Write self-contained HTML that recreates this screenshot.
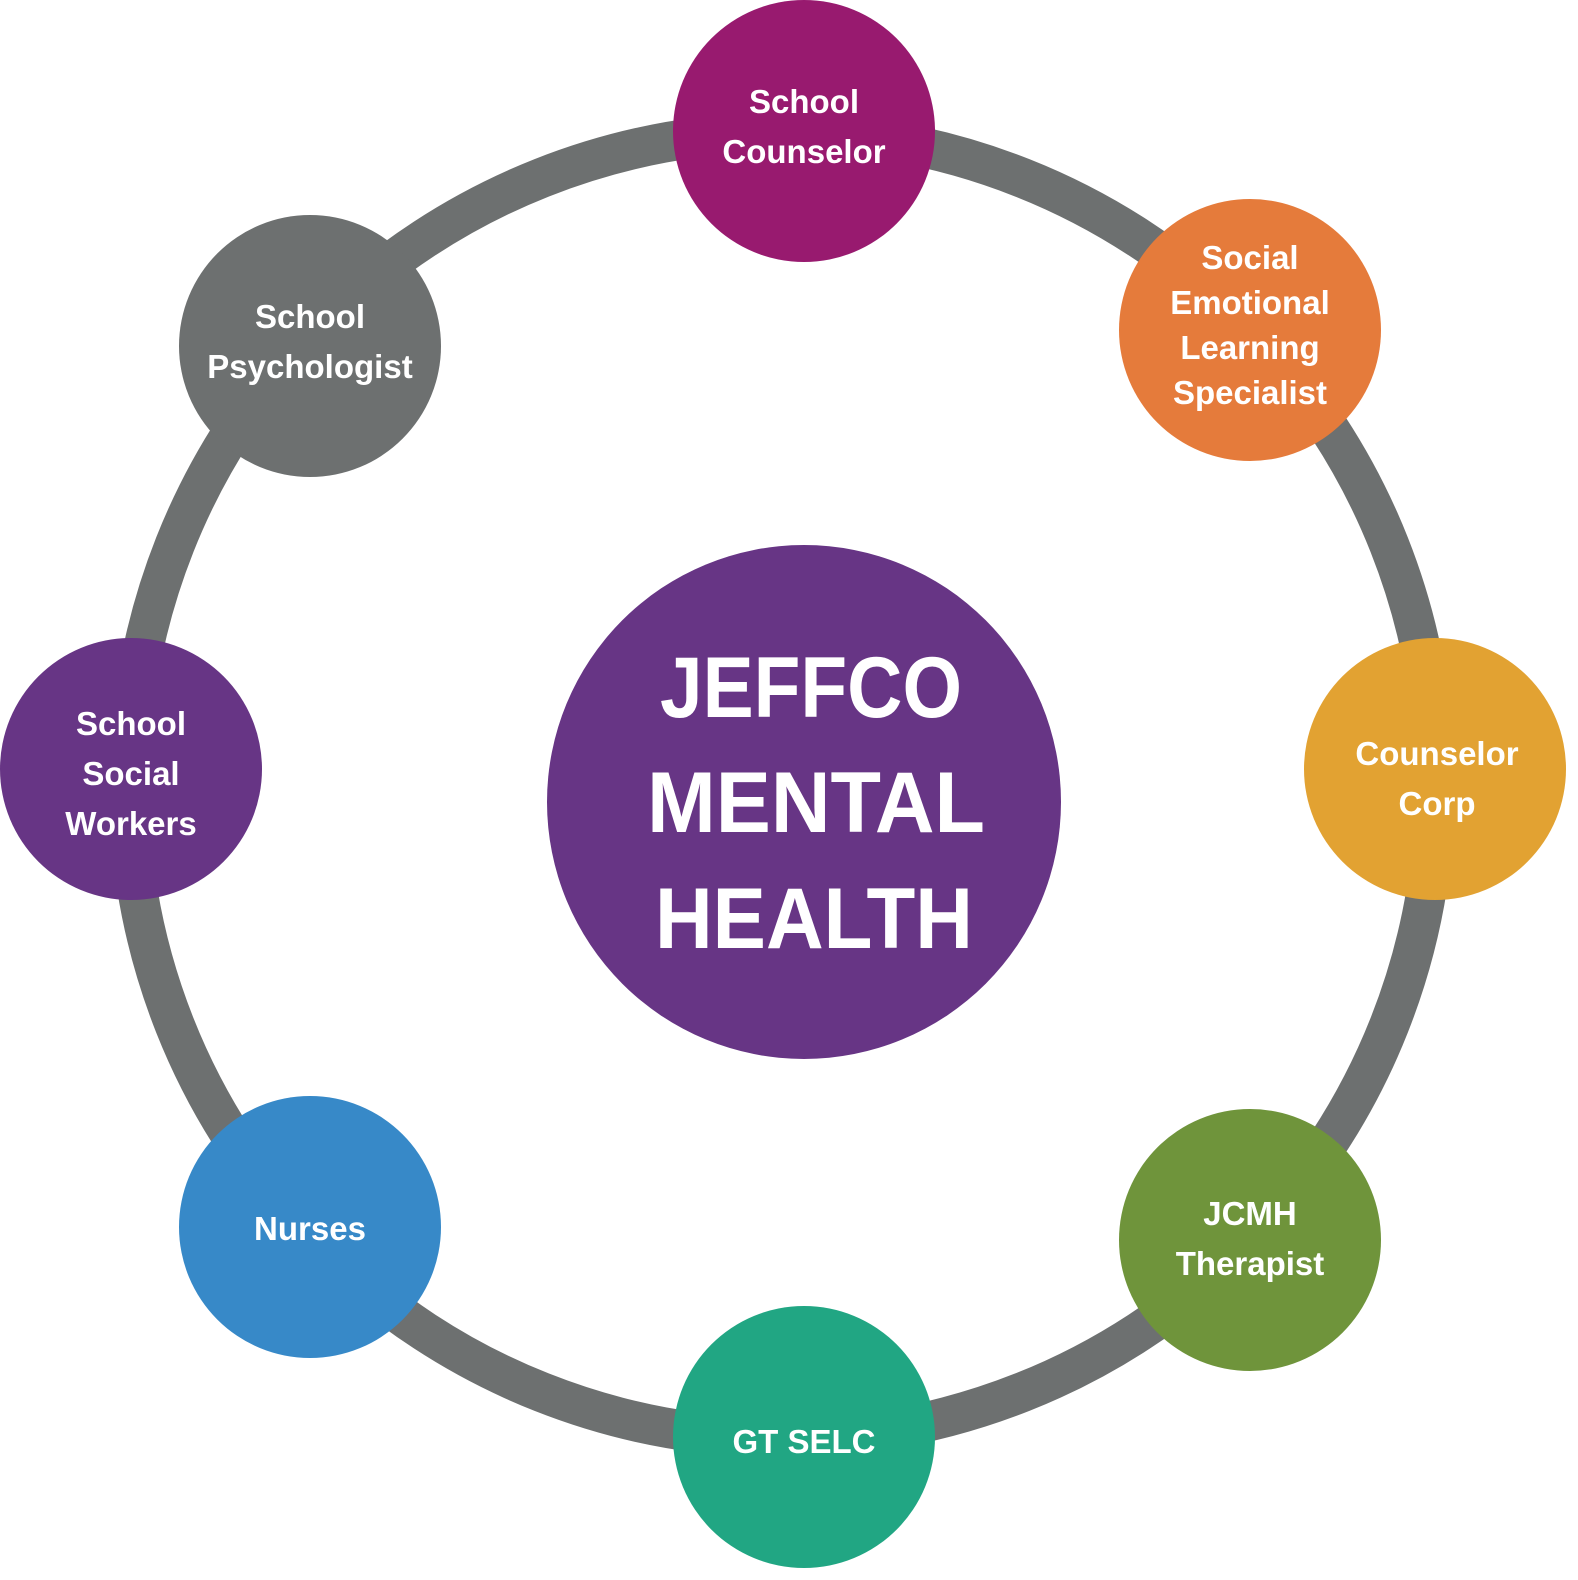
<!DOCTYPE html>
<html><head><meta charset="utf-8"><style>
html,body{margin:0;padding:0;background:#fff;}
svg{display:block;}
text{font-family:"Liberation Sans",sans-serif;font-weight:bold;fill:#fff;text-anchor:middle;}
.s{font-size:33px;}
.c{font-size:86px;}
</style></head><body>
<svg width="1578" height="1580" viewBox="0 0 1578 1580" xmlns="http://www.w3.org/2000/svg">
<circle cx="782" cy="785" r="653" fill="none" stroke="#6d7070" stroke-width="40"/>
<circle cx="804" cy="802" r="257" fill="#673585"/>
<text class="c" x="811" y="717" textLength="302" lengthAdjust="spacingAndGlyphs">JEFFCO</text>
<text class="c" x="816" y="832" textLength="338" lengthAdjust="spacingAndGlyphs">MENTAL</text>
<text class="c" x="814" y="948" textLength="318" lengthAdjust="spacingAndGlyphs">HEALTH</text>

<circle cx="804" cy="131" r="131" fill="#981a6f"/>
<text class="s" x="804" y="113">School</text>
<text class="s" x="804" y="163">Counselor</text>

<circle cx="1250" cy="330" r="131" fill="#e57b3b"/>
<text class="s" x="1250" y="269">Social</text>
<text class="s" x="1250" y="314">Emotional</text>
<text class="s" x="1250" y="359">Learning</text>
<text class="s" x="1250" y="404">Specialist</text>

<circle cx="1435" cy="769" r="131" fill="#e2a232"/>
<text class="s" x="1437" y="765">Counselor</text>
<text class="s" x="1437" y="815">Corp</text>

<circle cx="1250" cy="1240" r="131" fill="#6f943b"/>
<text class="s" x="1250" y="1225">JCMH</text>
<text class="s" x="1250" y="1275">Therapist</text>

<circle cx="804" cy="1437" r="131" fill="#21a683"/>
<text class="s" x="804" y="1453">GT SELC</text>

<circle cx="310" cy="1227" r="131" fill="#3789c8"/>
<text class="s" x="310" y="1240">Nurses</text>

<circle cx="131" cy="769" r="131" fill="#673585"/>
<text class="s" x="131" y="735">School</text>
<text class="s" x="131" y="785">Social</text>
<text class="s" x="131" y="835">Workers</text>

<circle cx="310" cy="346" r="131" fill="#6d7070"/>
<text class="s" x="310" y="328">School</text>
<text class="s" x="310" y="378">Psychologist</text>
</svg>
</body></html>
